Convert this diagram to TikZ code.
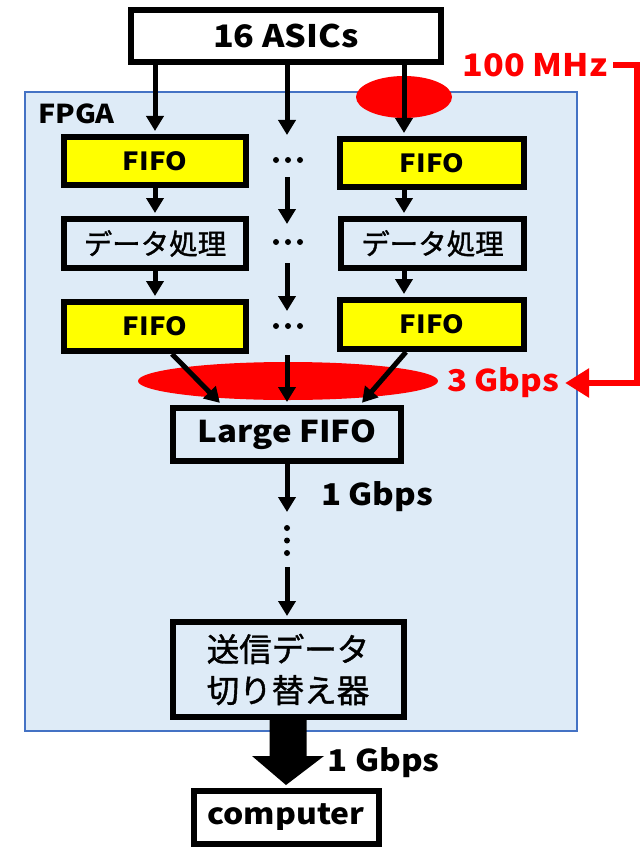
\documentclass[tikz,border=0pt]{standalone}
\usepackage{fontspec}
\setmainfont{Noto Sans CJK JP}
\newfontfamily\latn{Noto Sans CJK JP}[FakeStretch=1.1]
\newfontfamily\jpmed{Noto Sans CJK JP}[FakeBold=1.2]
\usetikzlibrary{arrows.meta,calc,shapes.geometric}
\definecolor{fpgafill}{HTML}{DEEBF7}
\definecolor{fpgaline}{HTML}{4472C4}
\definecolor{hired}{HTML}{FF0000}
\definecolor{fifoyel}{HTML}{FFFF00}
\newcommand{\fsz}[2]{\fontsize{#1}{#2}\selectfont}
\begin{document}
\begin{tikzpicture}[x=1pt,y=-1pt,
  box/.style={draw=black, line width=6pt, inner sep=0pt, align=center},
  fifobox/.style={box, fill=fifoyel, minimum width=182pt, minimum height=48pt, font=\latn\fsz{25}{28}\bfseries},
  procbox/.style={box, minimum width=182pt, minimum height=49pt, font=\jpmed\fsz{28.5}{30}},
  arr/.style={line width=5pt, -{Triangle[width=17pt,length=15pt]}},
  lbl/.style={font=\latn\fsz{30}{32}\bfseries, inner sep=0pt},
  redlbl/.style={lbl, text=hired},
  redarr/.style={draw=hired, line width=6pt, -{Triangle[width=28pt,length=24pt]}},
  spot/.style={ellipse, fill=hired, inner sep=0pt}
]
\useasboundingbox (0,0) rectangle (643,848);
\fill[white] (0,0) rectangle (643,848);
% FPGA area
\node[draw=fpgaline, fill=fpgafill, line width=1.5pt, minimum width=552pt, minimum height=639pt, inner sep=0pt] (fpga) at (301,411.5) {};
\node[font=\latn\fsz{26}{28}\bfseries, anchor=west, inner sep=0pt] (fpgalbl) at (38,114) {FPGA};
% red highlights
\node[spot, minimum width=96pt, minimum height=42pt] (spot1) at (404,97) {};
\node[spot, minimum width=300pt, minimum height=38pt] (spot2) at (288,381) {};
% boxes
\node[box, fill=white, minimum width=310pt, minimum height=52pt, font=\latn\fsz{31}{34}\bfseries] (asics) at (286,36) {16 ASICs};
\node[fifobox] (f1l) at (155,161) {FIFO};
\node[fifobox, minimum width=184pt] (f1r) at (432,163) {FIFO};
\node[procbox] (p1l) at (155,243.5) {データ処理};
\node[procbox, minimum width=183pt] (p1r) at (432.5,243.5) {データ処理};
\node[fifobox, minimum height=49pt] (f2l) at (155,326.5) {FIFO};
\node[fifobox, minimum width=184pt, minimum height=49pt] (f2r) at (432,324.5) {FIFO};
\node[box, minimum width=228pt, minimum height=53pt, font=\latn\fsz{30}{32}\bfseries] (large) at (287,434.5) {Large FIFO};
\node[box, minimum width=231pt, minimum height=95pt, font=\jpmed\fsz{32.5}{41}] (sw) at (288,669.5) {送信データ\\切り替え器};
\node[box, fill=white, minimum width=185pt, minimum height=53pt, font=\latn\fsz{29}{32}\bfseries] (comp) at (286,817.5) {computer};
% labels
\node[redlbl, font=\latn\fsz{31}{32}\bfseries] (mhz) at (535,65) {100 MHz};
\node[redlbl] (gb3) at (503,383) {3 Gbps};
\node[lbl] (gb1a) at (377,497) {1 Gbps};
\node[lbl] (gb1b) at (383.5,763) {1 Gbps};
% dots
\foreach \y in {160,242,326} {
  \foreach \dx in {-12,0,12} { \fill (288+\dx,\y) circle[radius=3]; }
}
\foreach \y in {528,540.5,553} { \fill (287,\y) circle[radius=3]; }
% column coordinates
\coordinate (lc) at (155,0);
\coordinate (rc) at (404,0);
\coordinate (mc) at (287,0);
\coordinate (m1) at (287,135);
\coordinate (m2a) at (287,177);
\coordinate (m2b) at (287,224);
\coordinate (m3a) at (287,263);
\coordinate (m3b) at (287,311);
\coordinate (m4a) at (287,355);
\coordinate (m5b) at (287,512);
\coordinate (m6a) at (287,567);
% left column
\draw[arr, shorten >=3pt] (asics.south -| lc) -- (f1l.north -| lc);
\draw[arr, shorten >=3pt] (f1l.south -| lc) -- (p1l.north -| lc);
\draw[arr, shorten >=3pt] (p1l.south -| lc) -- (f2l.north -| lc);
% right column
\draw[arr, shorten >=3pt] (asics.south -| rc) -- (f1r.north -| rc);
\draw[arr, shorten >=3pt] (f1r.south -| rc) -- (p1r.north -| rc);
\draw[arr, shorten >=3pt] (p1r.south -| rc) -- (f2r.north -| rc);
% middle column
\draw[arr] (asics.south -| mc) -- (m1);
\draw[arr] (m2a) -- (m2b);
\draw[arr] (m3a) -- (m3b);
\draw[arr, shorten >=3pt] (m4a) -- (large.north -| mc);
% converging
\draw[arr, shorten >=3pt] ($(f2l.south)+(17,0)$) -- ($(large.north west)+(52,0)$);
\draw[arr, shorten >=3pt] ($(f2r.south)+(-26,0)$) -- ($(large.north east)+(-44,0)$);
% down from large FIFO
\draw[arr] (large.south -| mc) -- (m5b);
\draw[arr, shorten >=3pt] (m6a) -- (sw.north -| mc);
% red connector
\coordinate (rcor) at (637,0);
\draw[redarr, shorten <=6pt, shorten >=6pt] (mhz.east) -- (mhz.east -| rcor) |- (gb3.east);
% big arrow
\fill ($(sw.south)+(-18.5,0)$) -- ($(sw.south)+(18.5,0)$) -- ($(sw.south)+(18.5,36)$) -- ($(sw.south)+(36,36)$) -- ($(comp.north)+(0,-3)$) -- ($(sw.south)+(-36,36)$) -- ($(sw.south)+(-18.5,36)$) -- cycle;
\end{tikzpicture}
\end{document}
